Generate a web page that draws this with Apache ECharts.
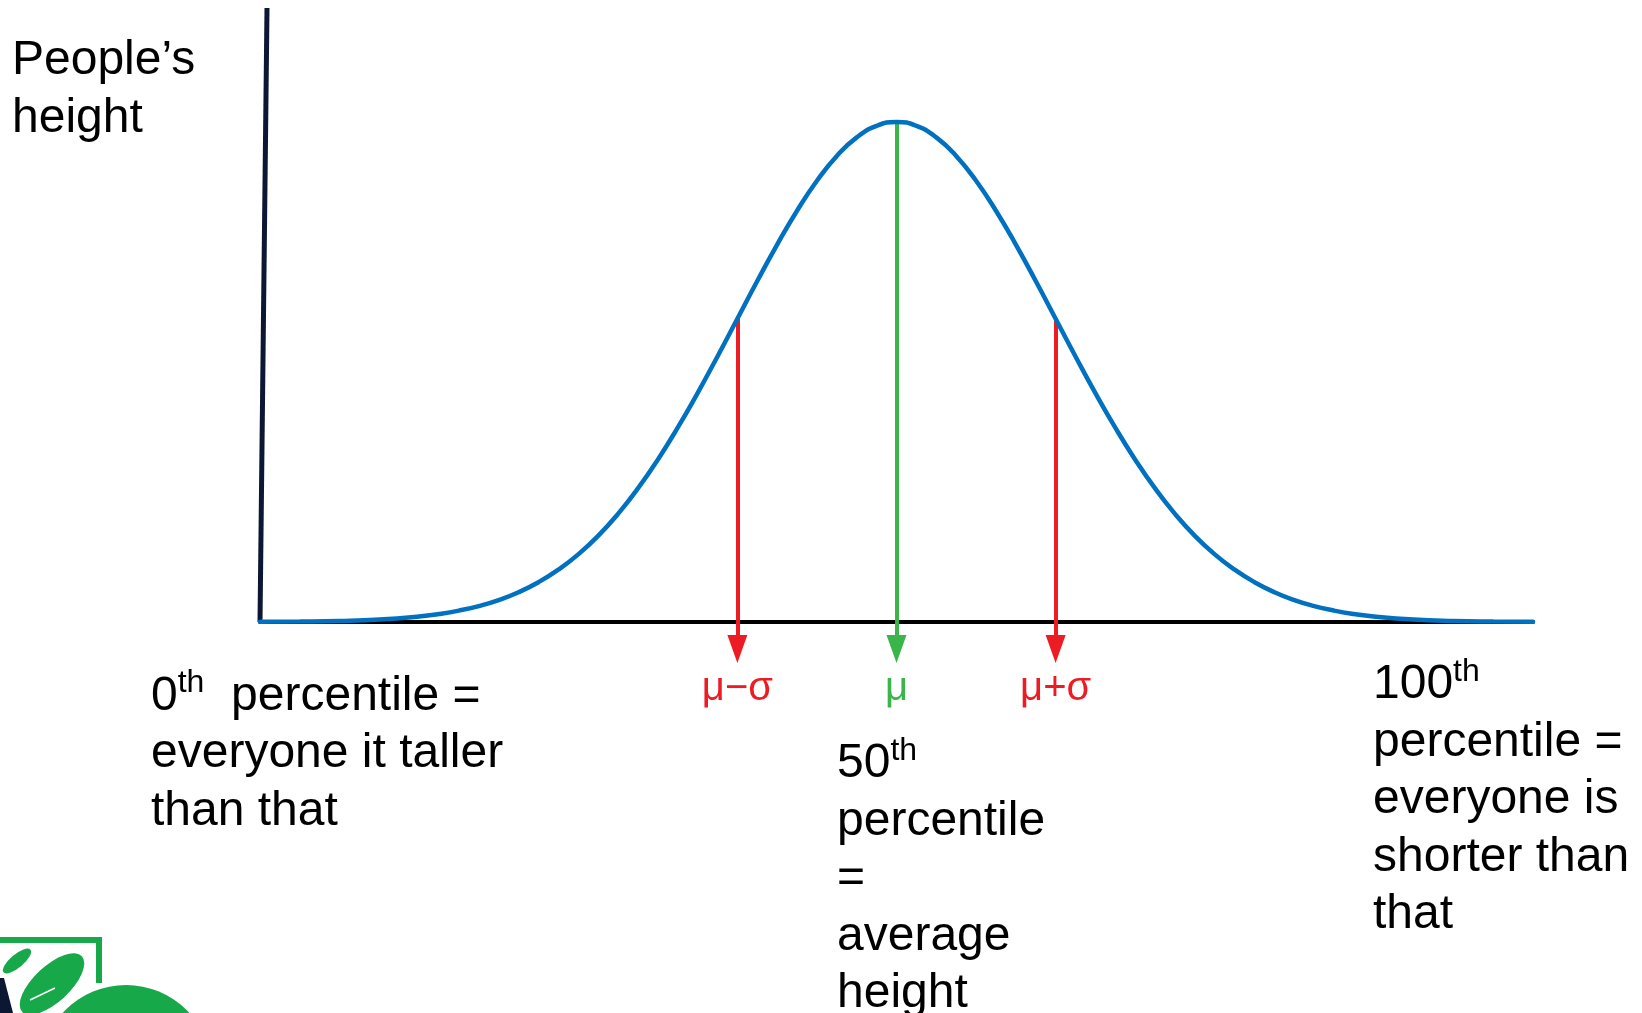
<!DOCTYPE html>
<html>
<head>
<meta charset="utf-8">
<title>Normal distribution - percentiles</title>
<script src="https://cdn.jsdelivr.net/npm/echarts@6/dist/echarts.min.js"></script>
<style>
    html, body { margin: 0; padding: 0; background: #ffffff; }
    #chart { width: 1642px; height: 1013px; }
</style>
</head>
<body>
<div id="chart"></div>
<script>
// posiciones en sigmas desde la media
const curveX = [-4, -3.75, -3.5, -3.25, -3, -2.875, -2.75, -2.625, -2.5, -2.375, -2.25, -2.125, -2, -1.875, -1.75, -1.625,
    -1.5, -1.375, -1.25, -1.125, -1, -0.875, -0.75, -0.625, -0.5, -0.375, -0.25, -0.125,
    0, 0.125, 0.25, 0.375, 0.5, 0.625, 0.75, 0.875, 1, 1.125, 1.25, 1.375, 1.5, 1.625, 1.75, 1.875,
    2, 2.125, 2.25, 2.375, 2.5, 2.625, 2.75, 2.875, 3, 3.25, 3.5, 3.75, 4];
// altura relativa de la curva (1 = pico)
const curveY = [0.0003, 0.0009, 0.0022, 0.0051, 0.0111, 0.0160, 0.0228, 0.0319, 0.0439, 0.0596, 0.0796, 0.1046, 0.1353, 0.1724, 0.2163, 0.2671,
    0.3247, 0.3886, 0.4578, 0.5311, 0.6065, 0.6819, 0.7548, 0.8226, 0.8825, 0.9321, 0.9692, 0.9922,
    1.0000, 0.9922, 0.9692, 0.9321, 0.8825, 0.8226, 0.7548, 0.6819, 0.6065, 0.5311, 0.4578, 0.3886, 0.3247, 0.2671, 0.2163, 0.1724,
    0.1353, 0.1046, 0.0796, 0.0596, 0.0439, 0.0319, 0.0228, 0.0160, 0.0111, 0.0051, 0.0022, 0.0009, 0.0003];

// flechas: mu-sigma, mu, mu+sigma
const arrowX = [-1, 0, 1];
const arrowFrom = [0.607, 1.0, 0.607];
const arrowTo = -0.054;
const arrowColors = ['#ED1C24', '#39B54A', '#ED1C24'];

// etiquetas del eje x
const tickValues = [-1, 0, 1];
const tickLabels = ['μ−σ', 'μ', 'μ+σ'];
const tickColors = ['#ED1C24', '#39B54A', '#ED1C24'];

// eje vertical (ligeramente inclinado en el original)
const yAxisLineX = [-4, -3.956];
const yAxisLineY = [0, 1.228];

const FONT = '"Liberation Sans", Arial, sans-serif';
const GREEN = '#17A84A';

const chart = echarts.init(document.getElementById('chart'));

const richText = {
    n: { fontSize: 48, lineHeight: 57.6, fontFamily: FONT, color: '#000', verticalAlign: 'middle' },
    s: { fontSize: 32, lineHeight: 36, fontFamily: FONT, color: '#000', verticalAlign: 'top' }
};

function textBlock(left, top, text) {
    return {
        type: 'text',
        left: left,
        top: top,
        z: 50,
        style: { text: text, rich: richText, fontFamily: FONT }
    };
}

const option = {
    animation: false,
    backgroundColor: '#ffffff',
    grid: { left: 260, right: 109, top: 8, bottom: 341 },
    xAxis: {
        type: 'value',
        min: -4,
        max: 4,
        interval: 1,
        splitLine: { show: false },
        axisTick: { show: false },
        axisLine: { show: true, onZero: true, lineStyle: { color: '#000', width: 4 } },
        axisLabel: {
            margin: -3,
            fontSize: 40,
            fontFamily: FONT,
            showMinLabel: true,
            showMaxLabel: true,
            formatter: function (v) {
                const i = tickValues.indexOf(v);
                return i >= 0 ? tickLabels[i] : '';
            },
            color: function (v) {
                const i = tickValues.indexOf(Number(v));
                return i >= 0 ? tickColors[i] : '#000';
            }
        }
    },
    yAxis: {
        type: 'value',
        min: -0.1,
        max: 1.228,
        show: false
    },
    series: [
        {
            name: 'eje',
            type: 'line',
            silent: true,
            symbol: 'none',
            z: 1,
            data: yAxisLineX.map((x, i) => [x, yAxisLineY[i]]),
            lineStyle: { color: '#0B1733', width: 5 }
        },
        {
            name: 'flechas',
            type: 'line',
            silent: true,
            symbol: 'none',
            data: [],
            markLine: {
                silent: true,
                z: 3,
                symbol: ['none', 'triangle'],
                symbolSize: [20, 28],
                label: { show: false },
                data: arrowX.map((x, i) => [
                    { coord: [x, arrowFrom[i]], lineStyle: { color: arrowColors[i], width: 4, type: 'solid' }, itemStyle: { color: arrowColors[i] } },
                    { coord: [x, arrowTo] }
                ])
            }
        },
        {
            name: 'altura',
            type: 'line',
            smooth: true,
            symbol: 'none',
            z: 10,
            data: curveX.map((x, i) => [x, curveY[i]]),
            lineStyle: { color: '#0070C0', width: 4.5, cap: 'round' }
        }
    ],
    graphic: [
        textBlock(12, 37, '{n|People’s}\n{n|height}'),
        textBlock(151, 667.6, '{n|0}{s|th}{n|  percentile =}\n{n|everyone it taller}\n{n|than that}'),
        textBlock(837, 735, '{n|50}{s|th}\n{n|percentile}\n{n|=}\n{n|average}\n{n|height}'),
        textBlock(1373, 656, '{n|100}{s|th}\n{n|percentile =}\n{n|everyone is}\n{n|shorter than}\n{n|that}'),
        // logo recortado abajo a la izquierda
        {
            type: 'polyline', z: 40,
            shape: { points: [[0, 940], [99, 940], [99, 983]] },
            style: { stroke: GREEN, lineWidth: 6, fill: null }
        },
        {
            type: 'circle', z: 40,
            shape: { cx: 126, cy: 1071, r: 86 },
            style: { fill: GREEN }
        },
        {
            type: 'circle', z: 40,
            x: 17, y: 961, rotation: 0.7,
            scaleX: 1.6, scaleY: 0.6,
            shape: { cx: 0, cy: 0, r: 11 },
            style: { fill: GREEN }
        },
        {
            type: 'circle', z: 40,
            x: 52, y: 984, rotation: 0.75,
            scaleX: 1.7, scaleY: 0.75,
            shape: { cx: 0, cy: 0, r: 24 },
            style: { fill: GREEN }
        },
        {
            type: 'line', z: 41,
            shape: { x1: 30, y1: 1000, x2: 55, y2: 988 },
            style: { stroke: '#ffffff', lineWidth: 1.5 }
        },
        {
            type: 'polygon', z: 41,
            shape: { points: [[0, 978], [4, 978], [13, 1013], [0, 1013]] },
            style: { fill: '#0B1733' }
        }
    ]
};

chart.setOption(option);
</script>
</body>
</html>
